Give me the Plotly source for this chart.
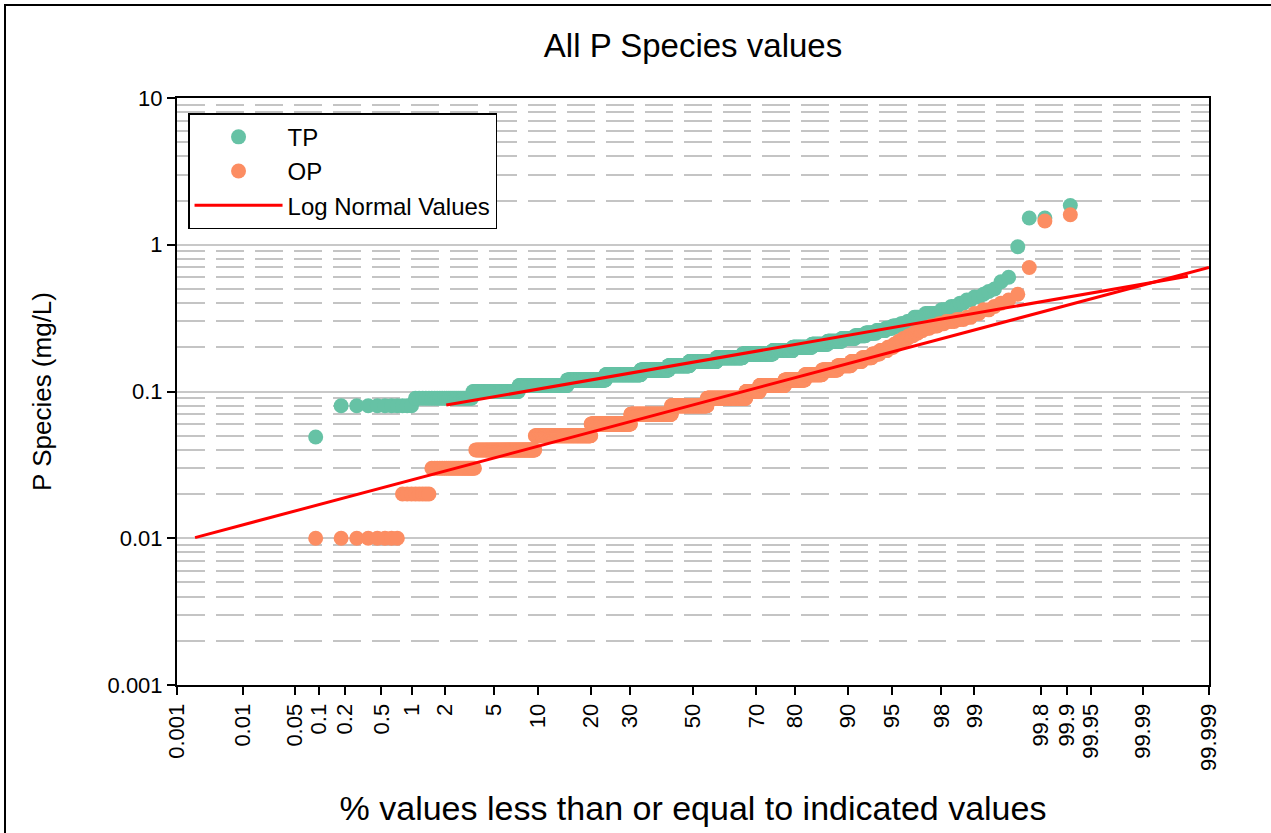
import numpy as np
import plotly.graph_objects as go
from statistics import NormalDist

# ---------------- data ----------------
# Discrete measured values and how many samples had each value
TP_VALUES = [0.049, 0.08, 0.09, 0.10, 0.11, 0.12, 0.13, 0.14, 0.15, 0.16, 0.17, 0.18, 0.19, 0.20,
             0.21, 0.22, 0.23, 0.24, 0.25, 0.26, 0.27, 0.28, 0.29, 0.30, 0.32, 0.34, 0.36, 0.38,
             0.40, 0.42, 0.44, 0.46, 0.48, 0.50, 0.56, 0.60, 0.97, 1.52, 1.85]
TP_COUNTS = [1, 10, 26, 45, 82, 94, 108, 96, 75, 98, 90, 95, 55, 46,
             33, 26, 21, 15, 13, 10, 7, 7, 5, 5, 7, 8, 4, 3,
             2, 2, 2, 1, 1, 1, 1, 1, 1, 2, 1]

OP_VALUES = [0.01, 0.02, 0.03, 0.04, 0.05, 0.06, 0.07, 0.08, 0.09, 0.10, 0.11, 0.12, 0.13, 0.14,
             0.15, 0.16, 0.17, 0.18, 0.19, 0.20, 0.21, 0.22, 0.23, 0.24, 0.25, 0.26, 0.27, 0.28,
             0.29, 0.30, 0.31, 0.32, 0.34, 0.36, 0.38, 0.40, 0.42, 0.46, 0.70, 1.45, 1.60]
OP_COUNTS = [8, 8, 23, 66, 114, 114, 139, 129, 135, 44, 74, 51, 38, 30,
             22, 16, 13, 9, 8, 6, 4, 4, 4, 4, 3, 3, 4, 4,
             3, 4, 3, 2, 2, 2, 1, 1, 1, 1, 1, 1, 1]

# Log-normal reference lines: end points (percent, value)
TP_FIT_PCT = [2.07, 99.99785]
TP_FIT_VAL = [0.0808, 0.61]
OP_FIT_PCT = [0.00193, 99.999]
OP_FIT_VAL = [0.0101, 0.70]

PCT_TICKS = [0.001, 0.01, 0.05, 0.1, 0.2, 0.5, 1, 2, 5, 10, 20, 30, 50, 70, 80, 90,
             95, 98, 99, 99.8, 99.9, 99.95, 99.99, 99.999]
PCT_LABELS = ["0.001", "0.01", "0.05", "0.1", "0.2", "0.5", "1", "2", "5", "10", "20", "30",
              "50", "70", "80", "90", "95", "98", "99", "99.8", "99.9", "99.95", "99.99", "99.999"]
Y_TICKS = [0.001, 0.01, 0.1, 1, 10]
Y_LABELS = ["0.001", "0.01", "0.1", "1", "10"]

# ---------------- helpers ----------------
ND = NormalDist()


def probit(pcts):
    return [ND.inv_cdf(p / 100.0) for p in pcts]


def plotting_positions(values, counts):
    y = np.repeat(values, counts)
    n = len(y)
    pct = np.arange(1, n + 1) / (n + 1) * 100.0
    return probit(pct), y


tp_x, tp_y = plotting_positions(TP_VALUES, TP_COUNTS)
op_x, op_y = plotting_positions(OP_VALUES, OP_COUNTS)

FONT = "Liberation Sans, Arial, sans-serif"
GREEN = "#66c2a5"
ORANGE = "#fc8d62"

fig = go.Figure()
fig.add_trace(go.Scatter(x=tp_x, y=tp_y, mode="markers", name="TP",
                         marker=dict(color=GREEN, size=15, line=dict(width=0))))
fig.add_trace(go.Scatter(x=op_x, y=op_y, mode="markers", name="OP",
                         marker=dict(color=ORANGE, size=15, line=dict(width=0))))
fig.add_trace(go.Scatter(x=probit(TP_FIT_PCT), y=TP_FIT_VAL, mode="lines",
                         name="Log Normal Values", legendgroup="ln",
                         line=dict(color="#ff0000", width=3)))
fig.add_trace(go.Scatter(x=probit(OP_FIT_PCT), y=OP_FIT_VAL, mode="lines",
                         name="Log Normal Values", legendgroup="ln", showlegend=False,
                         line=dict(color="#ff0000", width=3)))

zlim = ND.inv_cdf(0.99999)
minor_vals = [k * 10.0 ** e for e in range(-3, 1) for k in range(2, 10)]

fig.update_layout(
    width=1271, height=833,
    margin=dict(l=177, r=62, t=98, b=148, autoexpand=False),
    paper_bgcolor="white", plot_bgcolor="white",
    font=dict(family=FONT, color="black"),
    title=dict(text="All P Species values", x=0.5, xref="paper",
               y=1 - 45 / 833, yanchor="middle", font=dict(size=33, family=FONT)),
    showlegend=True,
    legend=dict(x=0.0107, y=0.974, xanchor="left", yanchor="top",
                bgcolor="white", bordercolor="black", borderwidth=1.5,
                font=dict(size=24, family=FONT), itemwidth=88,
                tracegroupgap=0),
    xaxis=dict(range=[-zlim, zlim], tickmode="array", tickvals=probit(PCT_TICKS),
               ticktext=PCT_LABELS, tickangle=-90, tickfont=dict(size=22),
               ticks="outside", ticklen=8, tickwidth=1.5, tickcolor="black",
               showline=True, linecolor="black", linewidth=2, mirror=True,
               showgrid=False, zeroline=False, automargin=False,
               title=dict(text="% values less than or equal to indicated values",
                          font=dict(size=34), standoff=26)),
    yaxis=dict(type="log", range=[-3, 1], tickmode="array", tickvals=Y_TICKS,
               ticktext=Y_LABELS, tickfont=dict(size=22),
               ticks="outside", ticklen=8, tickwidth=1.5, tickcolor="black",
               showline=True, linecolor="black", linewidth=2, mirror=True,
               showgrid=True, gridcolor="#c8c8c8", gridwidth=1.5, zeroline=False,
               minor=dict(tickvals=minor_vals, showgrid=True, gridcolor="#c4c4c4",
                          gridwidth=1.5, griddash="28px,11px", ticks=""),
               automargin=False,
               title=dict(text="P Species (mg/L)", font=dict(size=26), standoff=48)),
)

# outer frame of the figure
fig.add_shape(type="rect", xref="paper", yref="paper",
              x0=(5 - 177) / 1032, x1=(1290 - 177) / 1032,
              y0=(685 - 860) / 587, y1=(685 - 5) / 587,
              line=dict(color="black", width=2), fillcolor="rgba(0,0,0,0)", layer="below")

fig.write_html("out.html")
